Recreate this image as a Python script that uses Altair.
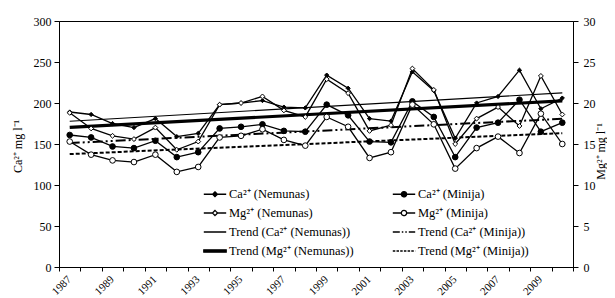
import altair as alt
import pandas as pd

years = list(range(1987, 2011))
ca_nemunas = [189, 186, 175, 170, 181, 159, 163, 198, 200, 203, 195, 194, 234, 218, 181, 178, 238, 215, 157, 200, 208, 240, 193, 206]
ca_minija = [161, 158, 147, 145, 154, 134, 140, 169, 171, 174, 166, 165, 198, 185, 153, 152, 202, 183, 134, 170, 176, 204, 165, 176]
mg_nemunas = [18.8, 16.9, 16.0, 15.6, 17.0, 14.3, 15.3, 19.8, 20.0, 20.8, 19.1, 18.3, 22.9, 21.2, 16.6, 17.3, 24.2, 21.6, 15.0, 18.1, 19.5, 17.2, 23.3, 18.6]
mg_minija = [15.3, 13.7, 13.0, 12.8, 13.7, 11.6, 12.2, 15.8, 16.0, 16.8, 15.5, 14.8, 18.3, 17.1, 13.3, 14.0, 19.8, 17.4, 12.0, 14.5, 15.9, 13.9, 18.7, 15.0]

# x tick labels (every second year)
tick_years = [1987, 1989, 1991, 1993, 1995, 1997, 1999, 2001, 2003, 2005, 2007, 2009]

# legend entries in column-major order (left column first, then right column)
legend_labels = [
    "Ca²⁺ (Nemunas)", "Mg²⁺ (Nemunas)",
    "Trend (Ca²⁺ (Nemunas))", "Trend (Mg²⁺ (Nemunas))",
    "Ca²⁺ (Minija)", "Mg²⁺ (Minija)",
    "Trend (Ca²⁺ (Minija))", "Trend (Mg²⁺ (Minija))",
]

FONT = "Liberation Serif"

xscale = alt.Scale(type="band", paddingInner=0, paddingOuter=0)
xaxis = alt.Axis(
    title=None, tickBand="extent", tickSize=4, labels=False,
    domainColor="black", tickColor="black", grid=False,
)
left_axis = alt.Axis(
    values=[0, 50, 100, 150, 200, 250, 300], title="Ca²⁺ mg l⁻¹", orient="left",
    tickSize=5, labelPadding=3, labelFont=FONT, labelFontSize=12, labelColor="black",
    titleFont=FONT, titleFontSize=12, titleFontWeight="normal", titleColor="black",
    titleAngle=270, titleBaseline="middle", titleAlign="center", titleX=-42, titleY=125,
    domainColor="black", tickColor="black", grid=False,
)
right_axis = alt.Axis(
    values=[0, 5, 10, 15, 20, 25, 30], title="Mg²⁺ mg l⁻¹", orient="right",
    tickSize=5, labelPadding=5, labelFont=FONT, labelFontSize=12, labelColor="black",
    titleFont=FONT, titleFontSize=12, titleFontWeight="normal", titleColor="black",
    titleAngle=270, titleBaseline="middle", titleAlign="center", titleX=27, titleY=130,
    domainColor="black", tickColor="black", grid=False,
)


def group(values, shape, fill, size, trend_width, trend_dash, yscale, yaxis):
    df = pd.DataFrame({"year": years, "value": values})
    base = alt.Chart(df).encode(
        x=alt.X("year:O", scale=xscale, axis=xaxis),
        y=alt.Y("value:Q", scale=yscale, axis=yaxis),
    )
    line = base.mark_line(color="black", strokeWidth=1.3)
    pts = base.mark_point(shape=shape, filled=True, fill=fill, stroke="black",
                          strokeWidth=1, size=size, opacity=1)
    tmark = dict(color="black", strokeWidth=trend_width)
    if trend_dash:
        tmark["strokeDash"] = trend_dash
    trend = base.transform_regression("year", "value").mark_line(**tmark)
    return [line, trend, pts]


ca_scale = alt.Scale(domain=[0, 300], nice=False)
mg_scale = alt.Scale(domain=[0, 30], nice=False)

ca_layers = (group(ca_nemunas, "diamond", "black", 18, 1.2, None, ca_scale, left_axis)
             + group(ca_minija, "circle", "black", 32, 2, [10, 3, 2, 3, 2, 3], ca_scale, left_axis))
mg_layers = (group(mg_nemunas, "diamond", "white", 24, 3.2, None, mg_scale, right_axis)
             + group(mg_minija, "circle", "white", 32, 2, [4, 2], mg_scale, right_axis))

ca_group = alt.layer(*ca_layers)
mg_group = alt.layer(*mg_layers)

# rotated year labels under the x axis, placed by the shared x scale
tick_df = pd.DataFrame({"year": tick_years, "label": [str(y) for y in tick_years]})
year_labels = alt.Chart(tick_df).mark_text(
    angle=315, align="right", baseline="middle", font=FONT, fontSize=11, color="black",
    dx=0, dy=0,
).encode(
    x=alt.X("year:O", scale=xscale, axis=xaxis),
    y=alt.value(257),
    text="label:N",
)

line_d = "M-1.4,0H1.4"
thick_d = "M-1.4,-0.15H1.4V0.15H-1.4Z"
diamond_filled = "M-1.4,0H1.4M0,-0.3L0.3,0L0,0.3L-0.3,0Z"
circle_filled = "M-1.4,0H1.4M-0.33,0A0.33,0.33,0,1,1,0.33,0A0.33,0.33,0,1,1,-0.33,0Z"
diamond_open = "M-1.4,0H-0.32M0.32,0H1.4M0,-0.32L0.32,0L0,0.32L-0.32,0Z"
circle_open = "M-1.4,0H-0.33M0.33,0H1.4M-0.33,0A0.33,0.33,0,1,1,0.33,0A0.33,0.33,0,1,1,-0.33,0Z"

paths = [diamond_filled, diamond_open, line_d, thick_d,
         circle_filled, circle_open, line_d, line_d]
fills = ["black", "white", "black", "black", "black", "white", "black", "black"]
strokes = ["black"] * 8
dashes = [[1, 0], [1, 0], [1, 0], [1, 0], [1, 0], [1, 0], [7, 2, 1.5, 2, 1.5, 2], [2.5, 1.2]]

leg = alt.Legend(
    title=None, orient="none", legendX=147, legendY=164, columns=2,
    columnPadding=36, rowPadding=3, symbolSize=256, labelOffset=5, padding=0,
    labelFont=FONT, labelFontSize=12.5, labelColor="black",
    symbolOpacity=1, symbolStrokeWidth=1.3,
)
legend_df = pd.DataFrame({"series": legend_labels})
legend_layer = alt.Chart(legend_df).transform_filter("false").mark_point(
    filled=True, opacity=1
).encode(
    shape=alt.Shape("series:N", scale=alt.Scale(domain=legend_labels, range=paths), legend=leg),
    fill=alt.Fill("series:N", scale=alt.Scale(domain=legend_labels, range=fills), legend=leg),
    stroke=alt.Stroke("series:N", scale=alt.Scale(domain=legend_labels, range=strokes), legend=leg),
    strokeDash=alt.StrokeDash("series:N", scale=alt.Scale(domain=legend_labels, range=dashes), legend=leg),
)

chart = alt.layer(ca_group, mg_group, year_labels, legend_layer).resolve_scale(
    y="independent"
).properties(
    width=514, height=246, autosize="none",
    padding={"left": 51, "top": 13, "right": 34, "bottom": 30},
    background="white",
).configure_view(stroke="black", strokeWidth=1)

chart.save("out.html", embed_options={"renderer": "svg", "actions": False})
